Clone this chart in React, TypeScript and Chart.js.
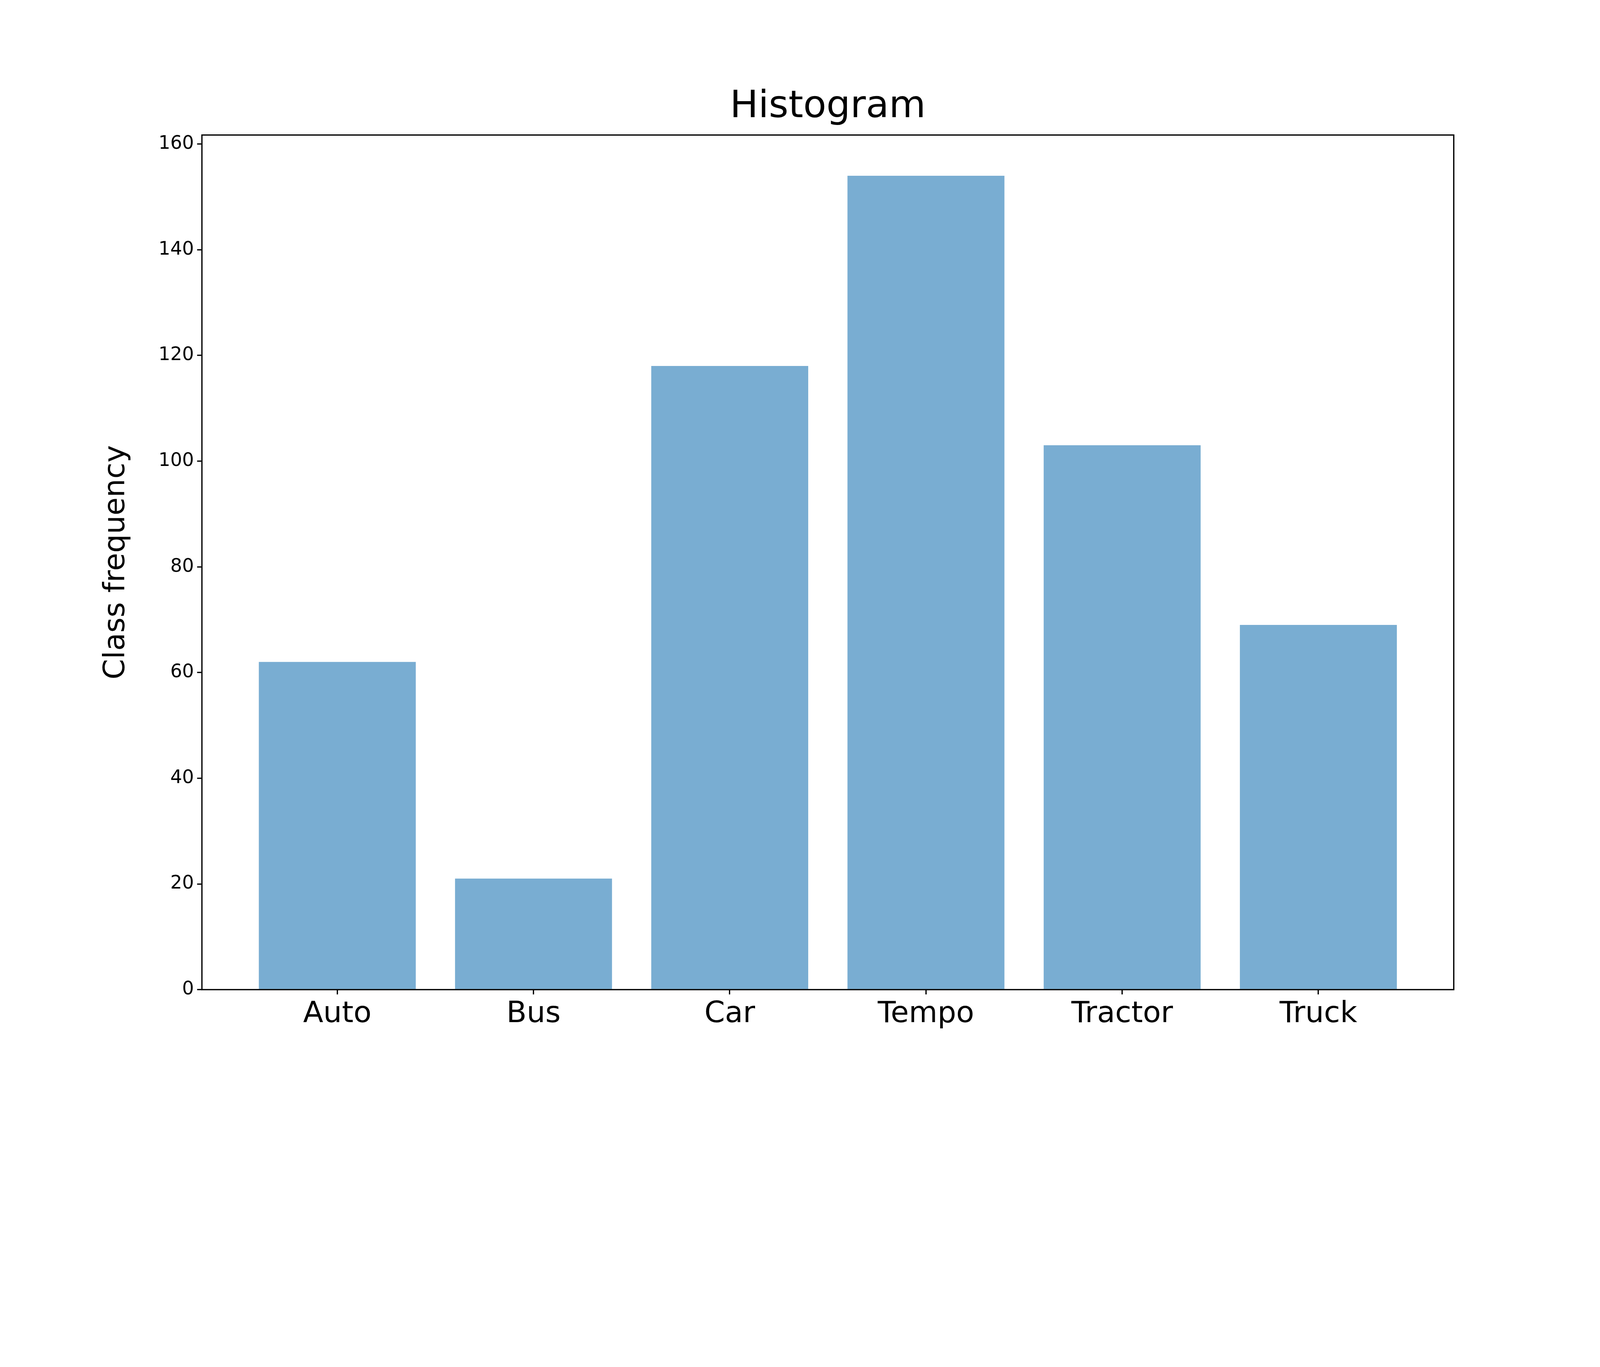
import React, { useEffect, useRef } from "react";
import { Chart, registerables } from "chart.js";
Chart.register(...registerables);

const categories = ["Auto", "Bus", "Car", "Tempo", "Tractor", "Truck"];
const values = [62, 21, 118, 154, 103, 69];
const yTicks = [0, 20, 40, 60, 80, 100, 120, 140, 160];

const FONT = "DejaVu Sans";

export default function App() {
  const ref = useRef<HTMLCanvasElement>(null);
  const W = window.innerWidth || 5000;
  const H = window.innerHeight || 3500;
  const s = W / 5000;
  useEffect(() => {
    document.body.style.margin = "0";
    document.body.style.overflow = "hidden";
    const frame = {
      id: "frame",
      afterDraw(c: any) {
        const { ctx, chartArea: a } = c;
        ctx.save();
        ctx.strokeStyle = "#000";
        ctx.lineWidth = 4 * s;
        ctx.strokeRect(a.left, a.top, a.right - a.left, a.bottom - a.top);
        ctx.fillStyle = "#000";
        ctx.textAlign = "center";
        ctx.textBaseline = "middle";
        ctx.font = `${118 * s}px '${FONT}'`;
        ctx.fillText("Histogram", (a.left + a.right) / 2, 335 * s);
        ctx.translate(364 * s, (a.top + a.bottom) / 2);
        ctx.rotate(-Math.PI / 2);
        ctx.font = `${92 * s}px '${FONT}'`;
        ctx.fillText("Class frequency", 0, 0);
        ctx.restore();
      },
    };
    const chart = new Chart(ref.current!, {
      type: "bar",
      data: {
        datasets: [{
          data: values.map((v, i) => ({ x: i, y: v })),
          backgroundColor: "rgba(31,119,180,0.6)",
          categoryPercentage: 1,
          barPercentage: 0.8,
        }],
      },
      options: {
        animation: false,
        responsive: false,
        layout: { padding: { top: 422 * s, right: 457 * s, left: 0, bottom: 0 } },
        plugins: { legend: { display: false }, tooltip: { enabled: false } },
        scales: {
          x: {
            type: "linear",
            offset: false,
            min: -0.69,
            max: 5.69,
            afterBuildTicks: (sc: any) => { sc.ticks = categories.map((_, i) => ({ value: i })); },
            afterFit: (sc: any) => { sc.height = H - 3093 * s; },
            ticks: {
              callback: (v: any) => categories[v] ?? "",
              color: "#000",
              font: { family: FONT, size: 92 * s },
              padding: 8 * s,
              maxRotation: 0,
            },
            grid: { offset: false, drawOnChartArea: false, drawTicks: true, tickLength: 15 * s, color: "#000", lineWidth: 4 * s },
            border: { display: false },
          },
          y: {
            min: 0,
            max: 161.7,
            afterBuildTicks: (sc: any) => { sc.ticks = yTicks.map((v) => ({ value: v })); },
            afterFit: (sc: any) => { sc.width = 631 * s; },
            ticks: {
              color: "#000",
              font: { family: FONT, size: 58 * s },
              padding: 10 * s,
            },
            grid: { drawOnChartArea: false, drawTicks: true, tickLength: 15 * s, color: "#000", lineWidth: 4 * s },
            border: { display: false },
          },
        },
      },
      plugins: [frame],
    } as any);
    return () => chart.destroy();
  }, []);
  return <canvas ref={ref} width={W} height={H} style={{ width: W, height: H, display: "block", background: "#fff" }} />;
}
